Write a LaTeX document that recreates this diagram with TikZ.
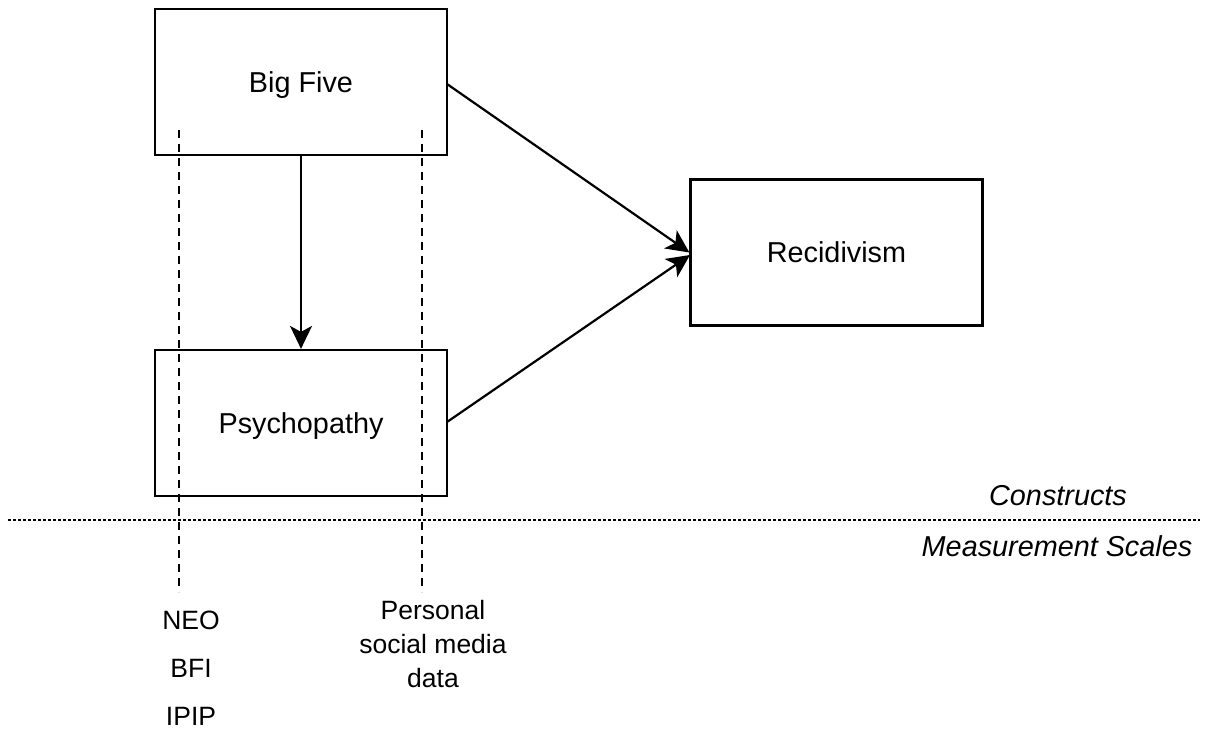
\documentclass[tikz,border=0pt]{standalone}
\usepackage{fontspec}
\setmainfont{Liberation Sans}
\usetikzlibrary{arrows.meta}
\begin{document}
\begin{tikzpicture}[x=1pt,y=-1pt,
  box/.style={draw, line width=2.2pt, minimum width=292pt, minimum height=146pt,
    text depth=0pt, font=\fontsize{28.8}{34}\selectfont},
  link/.style={line width=2.2pt, -{Stealth[length=23pt,width=22pt,inset=6pt]}},
  measure/.style={line width=2pt, dash pattern=on 8pt off 6pt},
  divider/.style={line width=2pt, dash pattern=on 2.5pt off 2.5pt},
  scalelabel/.style={font=\fontsize{26.5}{34}\selectfont, align=center},
  layer/.style={font=\itshape\fontsize{28.8}{34}\selectfont}]
\useasboundingbox (0,0) rectangle (1208,734);

% constructs
\node[box] (big) at (301,82) {Big Five};
\node[box] (psy) at (301,423) {Psychopathy};
\node[box] (rec) at (836.5,252.5) {Recidivism};

% causal paths
\draw[link] (big.south) -- (psy.north);
\draw[link] (447,84) -- (rec.west);
\draw[link] (447,422) -- (690,255);

% measurement guides
\coordinate (m1a) at (179,130);
\coordinate (m1b) at (179,592);
\coordinate (m2a) at (422,130);
\coordinate (m2b) at (422,592);
\draw[measure] (m1a) -- (m1b);
\draw[measure] (m2a) -- (m2b);

% layer divider
\coordinate (dl) at (8,520);
\coordinate (dr) at (1200,520);
\draw[divider] (dl) -- (dr);
\node[layer] (cons) at (1058,496) {Constructs};
\node[layer] (meas) at (1057,546) {Measurement Scales};

% measurement scales
\node[scalelabel] (neo) at (191,620) {NEO};
\node[scalelabel] (bfi) at (191,668) {BFI};
\node[scalelabel] (ipip) at (191,716) {IPIP};
\node[scalelabel] (smd) at (433,644) {Personal\\social media\\data};
\end{tikzpicture}
\end{document}
